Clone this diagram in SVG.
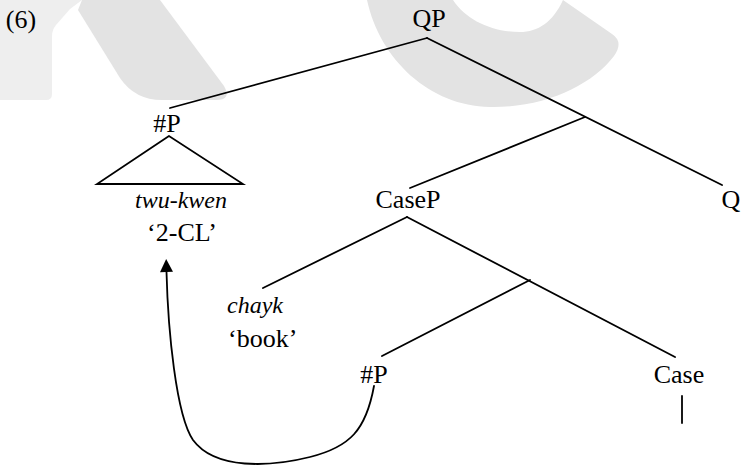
<svg xmlns="http://www.w3.org/2000/svg" width="741" height="465" viewBox="0 0 741 465">
<style>
  .lbl { font-family: "Liberation Serif", "DejaVu Serif", serif; font-size: 26px; fill: #000; text-anchor: middle; }
  .it { font-style: italic; font-size: 24px; }
  .edge { stroke: #000; stroke-width: 1.8; fill: none; stroke-linecap: round; }
  .wm { fill: #e3e3e3; stroke: none; }
  .wm2 { fill: #eeeeee; stroke: none; }
</style>
<defs>
  <marker id="arrow" viewBox="0 0 10 10" refX="0" refY="5" markerWidth="14" markerHeight="13" markerUnits="userSpaceOnUse" orient="auto">
    <path d="M0,0 L10,5 L0,10 Z" fill="#000"/>
  </marker>
</defs>
<rect width="741" height="465" fill="#fff"/>
<g id="watermark">
  <path class="wm2" d="M0,0 L82,0 L70,9 L56,25 Q52,30 52,36 L52,94 Q52,100 46,100 L0,100 Z"/>
  <path class="wm" d="M82,0 L160,0 L224,86 Q232,100 216,100 L162,100 Q135,100 120,78 L78,10 Z"/>
  <path class="wm" d="M367,0 C380,60 430,106 490,107 C545,108 592,85 614,56 Q624,42 612,34 L563,0 C553,22 538,32 520,32 C492,32 466,20 453,0 Z"/>
</g>
<g id="connectors">
  <line class="edge" x1="427" y1="38" x2="170" y2="108"/>
  <line class="edge" x1="427" y1="38" x2="722" y2="185"/>
  <line class="edge" x1="585" y1="117" x2="410" y2="188"/>
  <polygon points="169,136 97,184 243,184" fill="none" stroke="#000" stroke-width="1.8" stroke-linejoin="miter"/>
  <line class="edge" x1="407" y1="217" x2="263" y2="288"/>
  <line class="edge" x1="407" y1="217" x2="675" y2="357"/>
  <line class="edge" x1="530" y1="280" x2="382" y2="356"/>
  <line class="edge" x1="682" y1="396" x2="682" y2="423"/>
  <path class="edge" d="M374,386 C366,430 350,447 310,457 C270,467 215,470 193,440 C176,415 168,330 166.5,272" marker-end="url(#arrow)"/>
</g>
<g id="ex-num"><text class="lbl" x="21" y="28">(6)</text></g>
<g id="QP"><text class="lbl" x="429" y="27">QP</text></g>
<g id="NumP-top"><text class="lbl" x="167" y="132">#P</text></g>
<g id="twu-kwen">
  <text class="lbl it" x="181" y="208">twu-kwen</text>
  <text class="lbl" x="182" y="241">‘2-CL’</text>
</g>
<g id="CaseP"><text class="lbl" x="408" y="208">CaseP</text></g>
<g id="Q"><text class="lbl" x="731" y="208">Q</text></g>
<g id="chayk">
  <text class="lbl it" x="227" y="313" style="text-anchor:start">chayk</text>
  <text class="lbl" x="228" y="347" style="text-anchor:start">‘book’</text>
</g>
<g id="NumP-low"><text class="lbl" x="374" y="383">#P</text></g>
<g id="Case"><text class="lbl" x="679" y="383">Case</text></g>
</svg>
